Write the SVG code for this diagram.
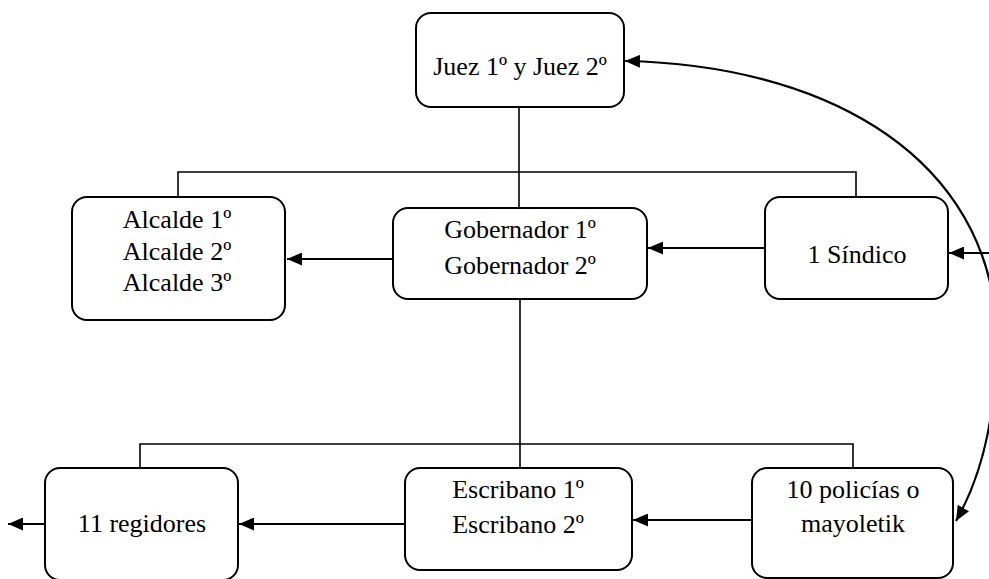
<svg xmlns="http://www.w3.org/2000/svg" width="989" height="579" viewBox="0 0 989 579">
<style>
.box{fill:#fff;stroke:#000;stroke-width:2}
.t{font-family:"Liberation Serif","Times New Roman",serif;font-size:26px;fill:#000;text-anchor:middle}
.ln{fill:none;stroke:#000;stroke-width:1.6}
.ar{fill:none;stroke:#000;stroke-width:2.2;marker-end:url(#ah)}
</style>
<defs>
<marker id="ah" viewBox="0 0 15 13" refX="15" refY="6.5" markerWidth="15" markerHeight="13" markerUnits="userSpaceOnUse" orient="auto-start-reverse">
<path d="M0,0 L15,6.5 L0,13 z" fill="#000"/>
</marker>
</defs>
<rect width="989" height="579" fill="#fff"/>
<g id="connectors">
<path class="ln" d="M519,107 V208"/>
<path class="ln" d="M178,197 V172 H856 V197"/>
<path class="ln" d="M520,299 V468"/>
<path class="ln" d="M140,468 V444 H853 V468"/>
<path class="ar" d="M393,259 H287"/>
<path class="ar" d="M765,248 H648"/>
<path class="ar" d="M989,253 H949"/>
<path class="ar" d="M752,520 H633"/>
<path class="ar" d="M405,524 H239"/>
<path class="ar" d="M45,524 H8"/>
<path class="ar" style="marker-start:url(#ah)" d="M625,61 C820,65 975,150 995,310 C1000,400 985,470 956,521"/>
</g>
<g id="juez"><rect class="box" x="416" y="13" width="208" height="94" rx="15"/><text class="t" x="520" y="75">Juez 1º y Juez 2º</text></g>
<g id="alcalde"><rect class="box" x="72" y="197" width="213" height="123" rx="15"/><text class="t" x="177" y="228">Alcalde 1º</text><text class="t" x="177" y="260">Alcalde 2º</text><text class="t" x="177" y="291">Alcalde 3º</text></g>
<g id="gobernador"><rect class="box" x="393" y="208" width="254" height="91" rx="15"/><text class="t" x="520" y="238">Gobernador 1º</text><text class="t" x="520" y="274">Gobernador 2º</text></g>
<g id="sindico"><rect class="box" x="765" y="197" width="183" height="102" rx="15"/><text class="t" x="857" y="263">1 Síndico</text></g>
<g id="regidores"><rect class="box" x="45" y="468" width="193" height="112" rx="15"/><text class="t" x="142" y="532">11 regidores</text></g>
<g id="escribano"><rect class="box" x="405" y="468" width="227" height="102" rx="15"/><text class="t" x="518" y="498">Escribano 1º</text><text class="t" x="518" y="533">Escribano 2º</text></g>
<g id="policias"><rect class="box" x="752" y="468" width="201" height="110" rx="15"/><text class="t" x="853" y="498">10 policías o</text><text class="t" x="853" y="532">mayoletik</text></g>
</svg>
